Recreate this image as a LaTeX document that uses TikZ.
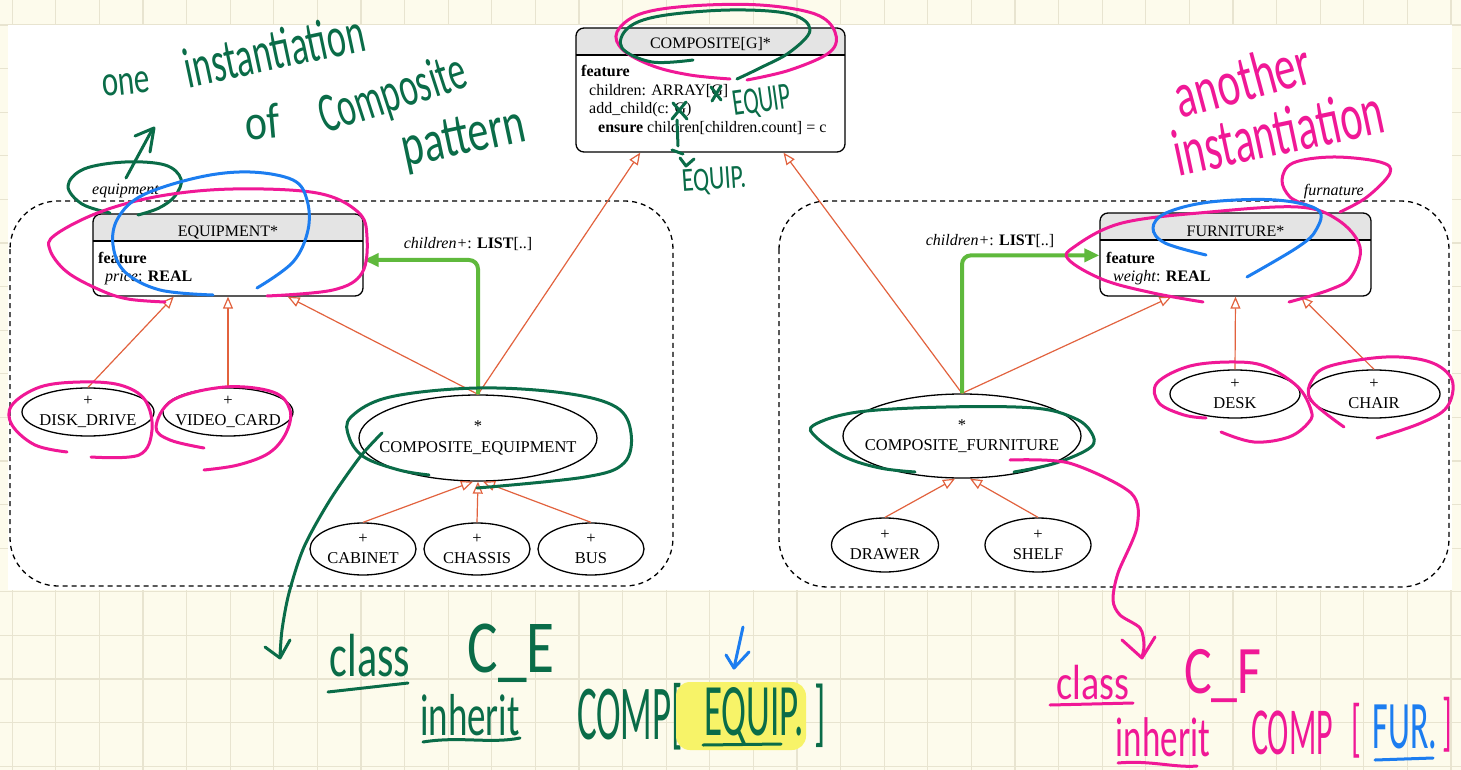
\documentclass[tikz,border=0pt]{standalone}
\usepackage{fontspec}
\setmainfont{Liberation Serif}
\newfontfamily\handfont{Carlito}
\usetikzlibrary{arrows.meta,shapes.geometric,calc}

\definecolor{paper}{RGB}{253,251,236}
\definecolor{gridline}{RGB}{232,228,208}
\definecolor{hdrgray}{RGB}{228,228,228}
\definecolor{inhred}{RGB}{226,98,62}
\definecolor{client}{RGB}{95,185,60}
\definecolor{pengreen}{RGB}{10,108,72}
\definecolor{penpink}{RGB}{240,24,150}
\definecolor{penblue}{RGB}{28,125,240}
\definecolor{marker}{RGB}{247,243,104}

\newcommand{\umlfont}{\fontsize{16}{19}\selectfont}
\newcommand{\ovalfont}{\fontsize{16.5}{20.5}\selectfont}

\tikzset{
  umlclass/.style={draw, line width=1.3pt, rounded corners=8pt, fill=white, inner sep=0pt,
    path picture={
      \fill[hdrgray, sharp corners] (path picture bounding box.north west) rectangle ([yshift=-27pt]path picture bounding box.north east);
      \draw[line width=1.3pt, sharp corners] ([yshift=-27pt]path picture bounding box.north west) -- ([yshift=-27pt]path picture bounding box.north east);
    }},
  member/.style={font=\umlfont, anchor=base west, inner sep=0pt},
  effective/.style={ellipse, draw, line width=1.3pt, fill=white, inner xsep=-30pt, inner ysep=-12pt, align=center, font=\ovalfont},
  cluster/.style={draw, dash pattern=on 5pt off 4pt, line width=1.3pt, rounded corners=48pt},
  inh/.style={draw=inhred, line width=1.2pt, -{Triangle[open, length=12pt, width=10pt]}},
  cli/.style={draw=client, line width=4pt, rounded corners=9pt, -{Triangle[length=15pt, width=13pt]}},
  pen/.style={line width=3pt, line cap=round, line join=round},
  scribble/.style={font=\handfont\fontsize{#1}{#1}\selectfont, inner sep=0pt},
}

\begin{document}
\begin{tikzpicture}[x=1pt, y=-1pt]
\useasboundingbox (0,0) rectangle (1461,770);
% paper
\fill[paper] (0,0) rectangle (1461,770);
\foreach \k in {0,...,33} \draw[gridline, line width=1.2pt] ({12.2+43.6*\k},0) -- ({12.2+43.6*\k},770);
\foreach \k in {0,...,17} \draw[gridline, line width=1.2pt] (0,{25+43.6*\k}) -- (1461,{25+43.6*\k});
\fill[white] (8,25) rectangle (1452,590);

% clusters
\draw[cluster] (10,201) rectangle (673,586);
\draw[cluster] (779,201) rectangle (1449,587);
\node[font=\itshape\umlfont, anchor=base west, inner sep=0pt] (eqlabel) at (92,195) {equipment};
\node[font=\itshape\umlfont, anchor=base east, inner sep=0pt] (furlabel) at (1364,196) {furnature};

% classes
\node[umlclass, minimum width=269pt, minimum height=124pt] (composite) at (710.5,90) {};
\node[font=\umlfont, anchor=base] (compositename) at (710.5,49) {COMPOSITE[G]*};
\node[member] (compfeat) at (581,77) {\textbf{feature}};
\node[member] (compchildren) at (589,95.5) {children: ARRAY[G]};
\node[member] (compadd) at (589,114) {add\_child(c: G)};
\node[member] (compensure) at (598,132.5) {\textbf{ensure} children[children.count] = c};

\node[umlclass, minimum width=270pt, minimum height=82pt] (equipment) at (228,255) {};
\node[font=\umlfont, anchor=base] (equipmentname) at (228,236.5) {EQUIPMENT*};
\node[member] (eqfeat) at (98,263) {\textbf{feature}};
\node[member] (eqprice) at (105,281.5) {\textit{price}: \textbf{REAL}};

\node[umlclass, minimum width=271pt, minimum height=83pt] (furniture) at (1235.5,254.5) {};
\node[font=\umlfont, anchor=base] (furniturename) at (1235.5,236.5) {FURNITURE*};
\node[member] (furfeat) at (1106,263) {\textbf{feature}};
\node[member] (furweight) at (1113,281.5) {\textit{weight}: \textbf{REAL}};

% effective classes
\node[effective, minimum width=132pt, minimum height=48pt] (diskdrive) at (88,412) {+\\DISK\_DRIVE};
\node[effective, minimum width=130pt, minimum height=48pt] (videocard) at (228,412) {+\\VIDEO\_CARD};
\node[effective, minimum width=238pt, minimum height=86pt] (compeq) at (478,438) {*\\COMPOSITE\_EQUIPMENT};
\node[effective, minimum width=106pt, minimum height=52pt] (cabinet) at (363,549) {+\\CABINET};
\node[effective, minimum width=106pt, minimum height=52pt] (chassis) at (477,549) {+\\CHASSIS};
\node[effective, minimum width=106pt, minimum height=52pt] (bus) at (591,549) {+\\BUS};

\node[effective, minimum width=238pt, minimum height=84pt] (compfur) at (962,436) {*\\COMPOSITE\_FURNITURE};
\node[effective, minimum width=130pt, minimum height=48pt] (desk) at (1235,394) {+\\DESK};
\node[effective, minimum width=132pt, minimum height=48pt] (chair) at (1374,394) {+\\CHAIR};
\node[effective, minimum width=107pt, minimum height=54pt] (drawer) at (885,545) {+\\DRAWER};
\node[effective, minimum width=106pt, minimum height=54pt] (shelf) at (1038,545) {+\\SHELF};

% inheritance
\draw[inh] (diskdrive.north) -- ($(equipment.south west)!0.3!(equipment.south east)$);
\draw[inh] (videocard.north) -- (equipment.south);
\draw[inh] (compeq.north) -- ($(equipment.south west)!0.72!(equipment.south east)$);
\draw[inh] (compeq.north) -- ($(composite.south west)!0.24!(composite.south east)$);
\draw[inh] (cabinet.north) -- ($(compeq.south)+(-5,0)$);
\draw[inh] (chassis.north) -- (compeq.south);
\draw[inh] (bus.north) -- ($(compeq.south)+(5,0)$);
\draw[inh] (compfur.north) -- ($(composite.south west)!0.77!(composite.south east)$);
\draw[inh] (compfur.north) -- ($(furniture.south west)!0.265!(furniture.south east)$);
\draw[inh] (desk.north) -- (furniture.south);
\draw[inh] (chair.north) -- ($(furniture.south west)!0.74!(furniture.south east)$);
\draw[inh] (drawer.north) -- ($(compfur.south)+(-7,0)$);
\draw[inh] (shelf.north) -- ($(compfur.south)+(8,0)$);

% client
\draw[cli] (compeq.north) |- ($(equipment.north east)!0.56!(equipment.south east)$);
\draw[cli] (compfur.north) |- ($(furniture.north west)!0.51!(furniture.south west)$);
\node[font=\umlfont, anchor=base, inner sep=0pt] (eqchildren) at (468,248) {\textit{children+}: \textbf{LIST}[..]};
\node[font=\umlfont, anchor=base, inner sep=0pt] (furchildren) at (990,245) {\textit{children+}: \textbf{LIST}[..]};

% --- pen notes: green
\draw[pen, pengreen] plot[smooth, tension=0.6] coordinates {(110,213) (82,204) (68,186) (84,169) (125,162) (165,165) (181,179) (175,196) (159,208) (138,215)};
\draw[pen, pengreen] (126,178) -- (152,130);
\draw[pen, pengreen] (135,136) -- (154,128) -- (150,152);
\node[scribble=31, text=pengreen, rotate=6] (hwone) at (126,84) {\scalebox{1}[1.4]{one}};
\node[scribble=36, text=pengreen, rotate=12] (hwinst) at (274,50) {\scalebox{1}[1.6]{instantiation}};
\node[scribble=42, text=pengreen, rotate=5] (hwof) at (262,122) {\scalebox{1}[1.2]{of}};
\node[scribble=35, text=pengreen, rotate=18] (hwcomp) at (393,96) {\scalebox{1}[1.6]{Composite}};
\node[scribble=42, text=pengreen, rotate=12] (hwpattern) at (464,140) {\scalebox{1}[1.4]{pattern}};

\draw[pen, penpink] plot[smooth, tension=0.6] coordinates {(747,80) (790,70) (830,52) (835,32) (815,14) (760,5) (690,6) (640,14) (617,32) (623,50) (653,66) (690,75) (730,79)};
\draw[pen, pengreen] plot[smooth, tension=0.6] coordinates {(693,60) (652,62) (622,48) (628,28) (660,16) (730,10) (790,14) (810,30) (790,52) (760,68) (737,79)};
\draw[pen, pengreen] (711,87) -- (721,100) (721,86) -- (712,101);
\draw[pen, pengreen] (673,103) -- (687,119) (686,102) -- (672,119);
\draw[pen, pengreen] (677,120) -- (678,146) (672,150) -- (683,154);
\draw[pen, pengreen] (680,158) -- (686,166) -- (694,159);
\node[scribble=23, text=pengreen, rotate=8] (hwequip) at (762,102) {\scalebox{1}[1.65]{EQUIP}};
\node[scribble=24, text=pengreen, rotate=4] (hwequipdot) at (714,181) {\scalebox{1}[1.4]{EQUIP.}};

\draw[pen, pengreen] plot[smooth, tension=0.6] coordinates {(477,488) (585,477) (624,463) (631,433) (616,407) (564,393) (477,388) (390,397) (351,417) (349,437) (364,457) (399,470) (429,475)};
\draw[pen, pengreen] plot[smooth] coordinates {(382,433) (360,457) (330,500) (304,547) (289,593) (282,630) (280,657)};
\draw[pen, pengreen] (265,647) -- (280,658) -- (290,640);
\draw[pen, pengreen] plot[smooth, tension=0.6] coordinates {(1014,472) (1056,463) (1091,447) (1091,432) (1074,418) (1034,408) (946,407) (858,412) (814,425) (816,437) (845,457) (880,468) (915,472)};

% --- pen notes: pink and blue
\node[scribble=43, text=penpink, rotate=15] (hwanother) at (1242,79) {\scalebox{1}[1.5]{another}};
\node[scribble=42, text=penpink, rotate=12] (hwinst2) at (1278,132) {\scalebox{1}[1.6]{instantiation}};
\draw[pen, penpink] plot[smooth, tension=0.6] coordinates {(1340,212) (1367,197) (1390,173) (1380,162) (1333,157) (1293,163) (1282,180) (1290,197) (1307,205)};
\draw[pen, penpink] plot[smooth, tension=0.6] coordinates {(267,296) (333,290) (362,273) (367,237) (358,212) (317,193) (233,189) (160,196) (100,212) (55,235) (50,250) (67,272) (100,290) (128,299) (165,302)};
\draw[pen, penblue] plot[smooth, tension=0.6] coordinates {(213,295) (160,290) (125,272) (113,245) (118,218) (143,195) (200,177) (250,172) (293,180) (307,200) (308,230) (293,262) (257,288)};
\draw[pen, penpink] plot[smooth, tension=0.6] coordinates {(91,457) (139,455) (152,430) (145,400) (120,385) (80,382) (40,387) (12,405) (12,425) (35,445) (67,452)};
\draw[pen, penpink] plot[smooth, tension=0.6] coordinates {(204,448) (170,440) (156,427) (173,400) (225,387) (273,392) (290,410) (286,433) (269,453) (238,465) (204,470)};
\draw[pen, penpink] plot[smooth, tension=0.6] coordinates {(1203,302) (1153,293) (1104,280) (1069,260) (1074,247) (1122,223) (1210,212) (1298,207) (1338,220) (1360,247) (1351,277) (1329,290) (1289,302)};
\draw[pen, penblue] plot[smooth, tension=0.6] coordinates {(1206,255) (1165,243) (1153,228) (1166,213) (1210,202) (1276,200) (1318,210) (1316,230) (1298,247) (1247,277)};
\draw[pen, penpink] plot[smooth, tension=0.6] coordinates {(1206,418) (1184,415) (1159,403) (1157,383) (1190,366) (1236,362) (1267,367) (1298,387) (1311,410) (1309,422) (1289,437) (1254,442) (1221,432)};
\draw[pen, penpink] plot[smooth, tension=0.6] coordinates {(1344,427) (1311,400) (1312,380) (1330,366) (1386,357) (1430,362) (1452,380) (1447,407) (1421,423) (1377,438)};
\draw[pen, penpink] plot[smooth] coordinates {(1010,460) (1069,463) (1131,493) (1137,527) (1118,573) (1113,600) (1120,615) (1140,628) (1144,645) (1142,657)};
\draw[pen, penpink] (1122,640) -- (1142,658) -- (1155,637);

% --- bottom notes
\draw[pen, pengreen] (328,692) -- (408,683);
\node[scribble=42, text=pengreen] (hwclass) at (370,656) {\scalebox{1}[1.45]{class}};
\node[scribble=44, text=pengreen] (hwce) at (511,653) {\scalebox{1.3}[1.7]{C\_E}};
\node[scribble=37, text=pengreen] (hwinherit) at (470,715) {\scalebox{1}[1.6]{inherit}};
\draw[pen, pengreen] (423,742) .. controls (460,736) and (490,744) .. (520,738);
\node[scribble=37, text=pengreen] (hwcompbr) at (630,717) {\scalebox{1}[2.1]{COMP[}};
\fill[marker, rounded corners=14pt] (676,682) rectangle (806,750);
\node[scribble=37, text=pengreen] (hwequipbr) at (754,716) {\scalebox{1}[2]{EQUIP.}};
\draw[pen, pengreen] (703,745) -- (781,744);
\node[scribble=37, text=pengreen] (hwclose) at (820,716) {\scalebox{1}[2]{]}};
\draw[pen, penblue] (743,627) -- (734,668);
\draw[pen, penblue] (726,655) -- (734,668) -- (749,652);

\node[scribble=38, text=penpink] (hwclassf) at (1093,683) {\scalebox{1}[1.3]{class}};
\draw[pen, penpink] (1050,705) -- (1133,703);
\node[scribble=40, text=penpink] (hwcf) at (1223,676) {\scalebox{1.3}[1.7]{C\_F}};
\node[scribble=35, text=penpink] (hwinheritf) at (1163,737) {\scalebox{1}[1.6]{inherit}};
\draw[pen, penpink] (1118,763) .. controls (1150,760) and (1175,768) .. (1197,766);
\node[scribble=32, text=penpink] (hwcompf) at (1292,733) {\scalebox{1}[2.1]{COMP}};
\node[scribble=32, text=penpink] (hwopenf) at (1356,731) {\scalebox{1}[2]{[}};
\node[scribble=34, text=penblue] (hwfur) at (1405,727) {\scalebox{1}[2]{FUR.}};
\draw[pen, penblue] (1375,760) -- (1433,758);
\node[scribble=32, text=penpink] (hwclosef) at (1447,725) {\scalebox{1}[2]{]}};
\end{tikzpicture}
\end{document}
